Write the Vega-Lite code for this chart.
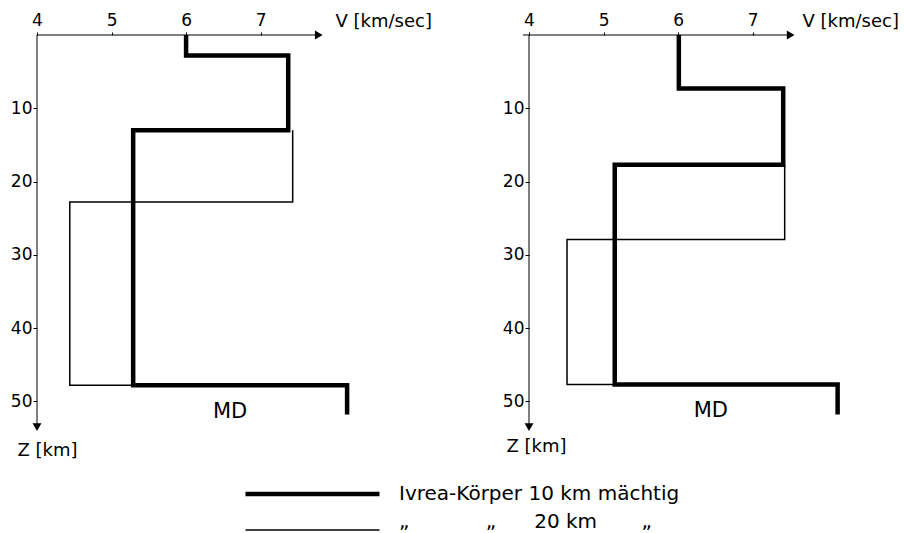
{
  "$schema": "https://vega.github.io/schema/vega-lite/v6.json",
  "background": "white",
  "padding": {"left": 10, "top": 11, "right": 0, "bottom": 0},
  "datasets": {
    "profiles": [
      {"panel": "L", "model": "Ivrea-Körper 10 km mächtig", "seq": 1, "v": 6.0, "z": 0},
      {"panel": "L", "model": "Ivrea-Körper 10 km mächtig", "seq": 2, "v": 6.0, "z": 2.8},
      {"panel": "L", "model": "Ivrea-Körper 10 km mächtig", "seq": 3, "v": 7.37, "z": 2.8},
      {"panel": "L", "model": "Ivrea-Körper 10 km mächtig", "seq": 4, "v": 7.37, "z": 13.0},
      {"panel": "L", "model": "Ivrea-Körper 10 km mächtig", "seq": 5, "v": 5.29, "z": 13.0},
      {"panel": "L", "model": "Ivrea-Körper 10 km mächtig", "seq": 6, "v": 5.29, "z": 47.8},
      {"panel": "L", "model": "Ivrea-Körper 10 km mächtig", "seq": 7, "v": 8.16, "z": 47.8},
      {"panel": "L", "model": "Ivrea-Körper 10 km mächtig", "seq": 8, "v": 8.16, "z": 51.8},
      {"panel": "L", "model": "\u00a0„\u00a0\u00a0\u00a0\u00a0\u00a0\u00a0\u00a0\u00a0\u00a0\u00a0\u00a0\u00a0„\u00a0\u00a0\u00a0\u00a0\u00a0\u00a020 km\u00a0\u00a0\u00a0\u00a0\u00a0\u00a0\u00a0„", "seq": 1, "v": 7.43, "z": 13.0},
      {"panel": "L", "model": "\u00a0„\u00a0\u00a0\u00a0\u00a0\u00a0\u00a0\u00a0\u00a0\u00a0\u00a0\u00a0\u00a0„\u00a0\u00a0\u00a0\u00a0\u00a0\u00a020 km\u00a0\u00a0\u00a0\u00a0\u00a0\u00a0\u00a0„", "seq": 2, "v": 7.43, "z": 22.8},
      {"panel": "L", "model": "\u00a0„\u00a0\u00a0\u00a0\u00a0\u00a0\u00a0\u00a0\u00a0\u00a0\u00a0\u00a0\u00a0„\u00a0\u00a0\u00a0\u00a0\u00a0\u00a020 km\u00a0\u00a0\u00a0\u00a0\u00a0\u00a0\u00a0„", "seq": 3, "v": 4.44, "z": 22.8},
      {"panel": "L", "model": "\u00a0„\u00a0\u00a0\u00a0\u00a0\u00a0\u00a0\u00a0\u00a0\u00a0\u00a0\u00a0\u00a0„\u00a0\u00a0\u00a0\u00a0\u00a0\u00a020 km\u00a0\u00a0\u00a0\u00a0\u00a0\u00a0\u00a0„", "seq": 4, "v": 4.44, "z": 47.8},
      {"panel": "L", "model": "\u00a0„\u00a0\u00a0\u00a0\u00a0\u00a0\u00a0\u00a0\u00a0\u00a0\u00a0\u00a0\u00a0„\u00a0\u00a0\u00a0\u00a0\u00a0\u00a020 km\u00a0\u00a0\u00a0\u00a0\u00a0\u00a0\u00a0„", "seq": 5, "v": 5.29, "z": 47.8},
      {"panel": "R", "model": "Ivrea-Körper 10 km mächtig", "seq": 1, "v": 6.01, "z": 0},
      {"panel": "R", "model": "Ivrea-Körper 10 km mächtig", "seq": 2, "v": 6.01, "z": 7.3},
      {"panel": "R", "model": "Ivrea-Körper 10 km mächtig", "seq": 3, "v": 7.41, "z": 7.3},
      {"panel": "R", "model": "Ivrea-Körper 10 km mächtig", "seq": 4, "v": 7.41, "z": 17.7},
      {"panel": "R", "model": "Ivrea-Körper 10 km mächtig", "seq": 5, "v": 5.15, "z": 17.7},
      {"panel": "R", "model": "Ivrea-Körper 10 km mächtig", "seq": 6, "v": 5.15, "z": 47.7},
      {"panel": "R", "model": "Ivrea-Körper 10 km mächtig", "seq": 7, "v": 8.14, "z": 47.7},
      {"panel": "R", "model": "Ivrea-Körper 10 km mächtig", "seq": 8, "v": 8.14, "z": 51.8},
      {"panel": "R", "model": "\u00a0„\u00a0\u00a0\u00a0\u00a0\u00a0\u00a0\u00a0\u00a0\u00a0\u00a0\u00a0\u00a0„\u00a0\u00a0\u00a0\u00a0\u00a0\u00a020 km\u00a0\u00a0\u00a0\u00a0\u00a0\u00a0\u00a0„", "seq": 1, "v": 7.43, "z": 17.7},
      {"panel": "R", "model": "\u00a0„\u00a0\u00a0\u00a0\u00a0\u00a0\u00a0\u00a0\u00a0\u00a0\u00a0\u00a0\u00a0„\u00a0\u00a0\u00a0\u00a0\u00a0\u00a020 km\u00a0\u00a0\u00a0\u00a0\u00a0\u00a0\u00a0„", "seq": 2, "v": 7.43, "z": 27.9},
      {"panel": "R", "model": "\u00a0„\u00a0\u00a0\u00a0\u00a0\u00a0\u00a0\u00a0\u00a0\u00a0\u00a0\u00a0\u00a0„\u00a0\u00a0\u00a0\u00a0\u00a0\u00a020 km\u00a0\u00a0\u00a0\u00a0\u00a0\u00a0\u00a0„", "seq": 3, "v": 4.51, "z": 27.9},
      {"panel": "R", "model": "\u00a0„\u00a0\u00a0\u00a0\u00a0\u00a0\u00a0\u00a0\u00a0\u00a0\u00a0\u00a0\u00a0„\u00a0\u00a0\u00a0\u00a0\u00a0\u00a020 km\u00a0\u00a0\u00a0\u00a0\u00a0\u00a0\u00a0„", "seq": 4, "v": 4.51, "z": 47.7},
      {"panel": "R", "model": "\u00a0„\u00a0\u00a0\u00a0\u00a0\u00a0\u00a0\u00a0\u00a0\u00a0\u00a0\u00a0\u00a0„\u00a0\u00a0\u00a0\u00a0\u00a0\u00a020 km\u00a0\u00a0\u00a0\u00a0\u00a0\u00a0\u00a0„", "seq": 5, "v": 5.15, "z": 47.7}
    ],
    "axes": [
      {"panel": "L", "v": 4, "v2": 7.78, "z": 0, "z2": 0},
      {"panel": "L", "v": 4, "v2": 4, "z": 0, "z2": 53.5},
      {"panel": "R", "v": 3.92, "v2": 7.51, "z": 0, "z2": 0},
      {"panel": "R", "v": 4, "v2": 4, "z": 0, "z2": 53.5}
    ],
    "arrows": [
      {"panel": "L", "v": 7.78, "z": 0, "shape": "triangle-right"},
      {"panel": "L", "v": 4, "z": 53.5, "shape": "triangle-down"},
      {"panel": "R", "v": 7.51, "z": 0, "shape": "triangle-right"},
      {"panel": "R", "v": 4, "z": 53.5, "shape": "triangle-down"}
    ],
    "labels": [
      {"panel": "L", "v": 6.59, "z": 51.4, "text": "MD"},
      {"panel": "R", "v": 6.44, "z": 51.3, "text": "MD"}
    ]
  },
  "spacing": 164,
  "bounds": "flush",
  "hconcat": [
    {
      "width": 328,
      "height": 403,
      "layer": [
        {
          "data": {"name": "axes"},
          "transform": [{"filter": "datum.panel === 'L'"}],
          "mark": {"type": "rule", "color": "black", "strokeWidth": 1},
          "encoding": {
            "x": {"field": "v", "type": "quantitative", "scale": {"domain": [4, 8.4], "nice": false, "zero": false}},
            "x2": {"field": "v2"},
            "y": {"field": "z", "type": "quantitative", "scale": {"domain": [0, 55], "nice": false, "zero": false, "reverse": true}},
            "y2": {"field": "z2"}
          }
        },
        {
          "data": {"name": "arrows"},
          "transform": [{"filter": "datum.panel === 'L'"}],
          "mark": {"type": "point", "filled": true, "color": "black", "size": 80, "opacity": 1},
          "encoding": {
            "x": {"field": "v", "type": "quantitative"},
            "y": {"field": "z", "type": "quantitative"},
            "shape": {"field": "shape", "type": "nominal", "scale": null}
          }
        },
        {
          "data": {"name": "profiles"},
          "transform": [{"filter": "datum.panel === 'L'"}],
          "mark": {"type": "line", "color": "black", "strokeJoin": "miter"},
          "encoding": {
            "x": {"field": "v", "type": "quantitative",
              "axis": {"orient": "top", "values": [4, 5, 6, 7], "format": "d", "tickSize": 3, "labelPadding": 3,
                "title": "V [km/sec]", "titleX": 298, "titleY": -14, "titleAlign": "left", "titleBaseline": "middle"}},
            "y": {"field": "z", "type": "quantitative",
              "axis": {"orient": "left", "values": [10, 20, 30, 40, 50], "format": "d", "tickSize": 4, "labelPadding": 1,
                "title": "Z [km]", "titleX": -20, "titleY": 415, "titleAlign": "left", "titleBaseline": "middle", "titleAngle": 0}},
            "order": {"field": "seq", "type": "quantitative"},
            "strokeWidth": {"field": "model", "type": "nominal",
              "scale": {"domain": ["Ivrea-Körper 10 km mächtig", "\u00a0„\u00a0\u00a0\u00a0\u00a0\u00a0\u00a0\u00a0\u00a0\u00a0\u00a0\u00a0\u00a0„\u00a0\u00a0\u00a0\u00a0\u00a0\u00a020 km\u00a0\u00a0\u00a0\u00a0\u00a0\u00a0\u00a0„"], "range": [4.5, 1.5]},
              "legend": {"orient": "none", "legendX": 206, "legendY": 449, "title": null, "direction": "vertical",
                "symbolType": "stroke", "symbolSize": 17956, "symbolStrokeColor": "black", "clipHeight": 20,
                "rowPadding": 8, "labelOffset": 17, "labelFontSize": 20, "labelColor": "black", "labelFont": "DejaVu Sans",
                "labelLimit": 500, "padding": 0,
                "encode": {"labels": {"update": {"dy": {"signal": "datum.index == 1 ? -8 : 0"}}}}}}
          }
        },
        {
          "data": {"name": "labels"},
          "transform": [{"filter": "datum.panel === 'L'"}],
          "mark": {"type": "text", "fontSize": 21, "color": "black", "align": "center", "baseline": "middle"},
          "encoding": {
            "x": {"field": "v", "type": "quantitative"},
            "y": {"field": "z", "type": "quantitative"},
            "text": {"field": "text"}
          }
        }
      ]
    },
    {
      "width": 328,
      "height": 403,
      "layer": [
        {
          "data": {"name": "axes"},
          "transform": [{"filter": "datum.panel === 'R'"}],
          "mark": {"type": "rule", "color": "black", "strokeWidth": 1},
          "encoding": {
            "x": {"field": "v", "type": "quantitative", "scale": {"domain": [4, 8.4], "nice": false, "zero": false}},
            "x2": {"field": "v2"},
            "y": {"field": "z", "type": "quantitative", "scale": {"domain": [0, 55], "nice": false, "zero": false, "reverse": true}},
            "y2": {"field": "z2"}
          }
        },
        {
          "data": {"name": "arrows"},
          "transform": [{"filter": "datum.panel === 'R'"}],
          "mark": {"type": "point", "filled": true, "color": "black", "size": 80, "opacity": 1},
          "encoding": {
            "x": {"field": "v", "type": "quantitative"},
            "y": {"field": "z", "type": "quantitative"},
            "shape": {"field": "shape", "type": "nominal", "scale": null}
          }
        },
        {
          "data": {"name": "profiles"},
          "transform": [{"filter": "datum.panel === 'R'"}],
          "mark": {"type": "line", "color": "black", "strokeJoin": "miter"},
          "encoding": {
            "x": {"field": "v", "type": "quantitative",
              "axis": {"orient": "top", "values": [4, 5, 6, 7], "format": "d", "tickSize": 3, "labelPadding": 3,
                "title": "V [km/sec]", "titleX": 273, "titleY": -14, "titleAlign": "left", "titleBaseline": "middle"}},
            "y": {"field": "z", "type": "quantitative",
              "axis": {"orient": "left", "values": [10, 20, 30, 40, 50], "format": "d", "tickSize": 4, "labelPadding": 1,
                "title": "Z [km]", "titleX": -23, "titleY": 411, "titleAlign": "left", "titleBaseline": "middle", "titleAngle": 0}},
            "order": {"field": "seq", "type": "quantitative"},
            "strokeWidth": {"field": "model", "type": "nominal",
              "scale": {"domain": ["Ivrea-Körper 10 km mächtig", "\u00a0„\u00a0\u00a0\u00a0\u00a0\u00a0\u00a0\u00a0\u00a0\u00a0\u00a0\u00a0\u00a0„\u00a0\u00a0\u00a0\u00a0\u00a0\u00a020 km\u00a0\u00a0\u00a0\u00a0\u00a0\u00a0\u00a0„"], "range": [4.5, 1.5]},
              "legend": null}
          }
        },
        {
          "data": {"name": "labels"},
          "transform": [{"filter": "datum.panel === 'R'"}],
          "mark": {"type": "text", "fontSize": 21, "color": "black", "align": "center", "baseline": "middle"},
          "encoding": {
            "x": {"field": "v", "type": "quantitative"},
            "y": {"field": "z", "type": "quantitative"},
            "text": {"field": "text"}
          }
        }
      ]
    }
  ],
  "config": {
    "font": "DejaVu Sans",
    "view": {"stroke": null},
    "axis": {
      "domain": false, "grid": false, "tickColor": "black", "tickWidth": 1,
      "labelFont": "DejaVu Sans", "labelFontSize": 17, "labelColor": "black", "labelFlush": false, "labelOverlap": false,
      "titleFont": "DejaVu Sans", "titleFontSize": 18, "titleFontWeight": "normal", "titleColor": "black"
    }
  }
}
